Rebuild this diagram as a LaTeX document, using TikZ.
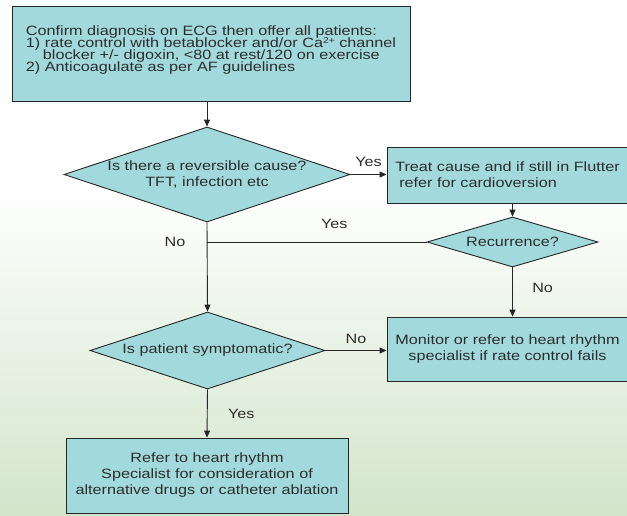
\documentclass[tikz,border=0pt]{standalone}
\usepackage{fontspec}
\setmainfont{Liberation Sans}[FakeStretch=1.2]
\usetikzlibrary{shapes.geometric,arrows.meta}
\definecolor{boxfill}{RGB}{161,217,220}
\definecolor{bggreen}{RGB}{210,229,203}
\definecolor{txtgray}{RGB}{45,45,45}
\newcommand{\ionsup}[1]{\raisebox{3.5pt}{\fontsize{8.5}{8.5}\selectfont #1}}
\tikzset{
  every node/.style={font=\fontsize{13.5}{16}\selectfont, text=txtgray},
  flowbox/.style={draw=black!85, fill=boxfill, line width=0.9pt, inner sep=0pt},
  decision/.style={flowbox, diamond, inner sep=-5pt},
  flowarrow/.style={-{Triangle[length=7pt,width=6pt]}, line width=0.9pt, draw=black!85},
  flowline/.style={line width=0.9pt, draw=black!85}
}
\begin{document}
\begin{tikzpicture}[x=1pt, y=-1pt]
    \useasboundingbox (0,0) rectangle (627,515);
    \clip (0,0) rectangle (627,515);
    \shade[top color=white, bottom color=bggreen] (0,185) rectangle (627,515);

    \node[flowbox, minimum width=398, minimum height=95, align=left,
          font={\fontsize{13.5}{12}\selectfont\lineskiplimit=-20pt}, text height=48, text depth=13] (start) at (211,53.5)
        {Confirm diagnosis on ECG then offer all patients:\\
         1) rate control with betablocker and/or Ca\ionsup{2+} channel\\
         \hspace*{17pt}blocker +/- digoxin, <80 at rest/120 on exercise\\
         2) Anticoagulate as per AF guidelines};
    \node[decision, minimum width=286, minimum height=95, shape aspect=3, align=center] (cause) at (207,174.5)
        {Is there a reversible cause?\\TFT, infection etc};
    \node[flowbox, minimum width=241, minimum height=56, align=left] (treat) at (507.5,175)
        {Treat cause and if still in Flutter\\\hspace*{4pt}refer for cardioversion};
    \node[decision, minimum width=171, minimum height=50, shape aspect=3.4] (recur) at (512.5,242) {Recurrence?};
    \node[decision, minimum width=235, minimum height=77, shape aspect=3] (sympt) at (207.5,350.5) {Is patient symptomatic?};
    \node[flowbox, minimum width=241, minimum height=64, align=center] (monitor) at (507.5,349)
        {Monitor or refer to heart rhythm\\specialist if rate control fails};
    \node[flowbox, minimum width=282, minimum height=75, align=center] (refer) at (207,475.5)
        {Refer to heart rhythm\\Specialist for consideration of\\alternative drugs or catheter ablation};

    \coordinate (merge) at (cause.south |- recur.west);
    \draw[flowarrow] (cause.north |- start.south) -- (cause.north);
    \draw[flowarrow] (cause.east) -- node[above, yshift=4] {Yes} (cause.east -| treat.west);
    \draw[flowarrow] (recur.north |- treat.south) -- (recur.north);
    \draw[flowline] (recur.west) -- node[above, pos=0.42, yshift=10] {Yes} (merge);
    \draw[flowarrow] (cause.south) -- node[left, pos=0.22, xshift=-18] {No} (sympt.north);
    \draw[flowarrow] (recur.south) -- node[right, pos=0.42, xshift=16] {No} (recur.south |- monitor.north);
    \draw[flowarrow] (sympt.east) -- node[above, yshift=3] {No} (sympt.east -| monitor.west);
    \draw[flowarrow] (sympt.south) -- node[right, pos=0.51, xshift=17] {Yes} (refer.north);
\end{tikzpicture}
\end{document}
